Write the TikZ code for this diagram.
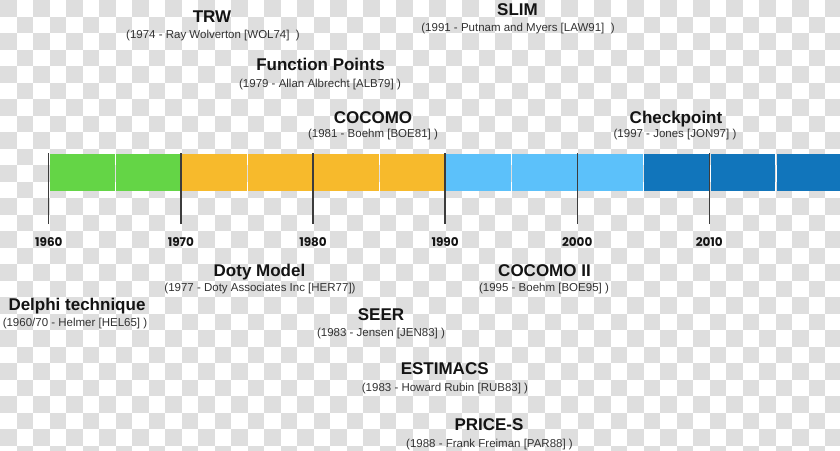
\documentclass[tikz,border=0pt]{standalone}
\usepackage{fontspec}
\setmainfont{Liberation Sans}
\newfontfamily\yearfont{Poppins}
\definecolor{chk}{RGB}{222,222,222}
\definecolor{titlec}{RGB}{20,20,20}
\definecolor{subc}{RGB}{50,50,50}
\definecolor{tickc}{RGB}{60,60,60}
\definecolor{cgreen}{RGB}{100,213,70}
\definecolor{corange}{RGB}{247,186,44}
\definecolor{clblue}{RGB}{92,193,250}
\definecolor{cdblue}{RGB}{17,117,187}
\begin{document}
\begin{tikzpicture}[x=1pt,y=-1pt,
  title/.style={font=\bfseries\fontsize{17}{17}\selectfont, text=titlec, inner sep=0pt, anchor=base},
  sub/.style={font=\fontsize{11.5}{11.5}\selectfont, text=subc, inner sep=0pt, anchor=base},
  year/.style={font=\yearfont\bfseries\fontsize{12}{12}\selectfont, text=titlec, inner sep=0pt, anchor=base},
  tickline/.style={draw=tickc, line width=1.3pt},
  seg/.style={draw=none}]
\useasboundingbox (0,0) rectangle (840,450);
\begin{scope}
\clip (0,0) rectangle (840,450);
\fill[white] (0,0) rectangle (840,450);
\foreach \i in {0,...,50} {
  \foreach \j in {0,...,27} {
    \pgfmathtruncatemacro\p{mod(\i+\j,2)}
    \ifnum\p=0 \fill[chk] ({\i*16.5},{\j*16.5}) rectangle ({(\i+1)*16.5},{(\j+1)*16.5});\fi
  }
}
% timeline segments
\foreach \k/\c in {0/cgreen,1/cgreen,2/corange,3/corange,4/corange,5/corange,6/clblue,7/clblue,8/clblue,9/cdblue,10/cdblue,11/cdblue} {
  \fill[\c] ({48.8+66.05*\k+1.2},154) rectangle ({48.8+66.05*(\k+1)-0.3},190.7);
}
\end{scope}
% ticks and years
\foreach \m/\yr in {0/1960,1/1970,2/1980,3/1990,4/2000,5/2010} {
  \coordinate (tt\yr) at ({48.8+132.1*\m},153);
  \coordinate (tb\yr) at ({48.8+132.1*\m},224);
  \draw[tickline] (tt\yr) -- (tb\yr);
  \node[year] (y\yr) at ({48.8+132.1*\m},246) {\yr};
}
% upper labels
\node[title] (trw) at (212,22.7) {TRW};
\node[sub] (trws) at (213,38.5) {(1974 - Ray Wolverton [WOL74]\ \ )};
\node[title] (fp) at (320.5,70) {Function Points};
\node[sub] (fps) at (320,87.5) {(1979 - Allan Albrecht [ALB79] )};
\node[title] (cocomo) at (373,123) {COCOMO};
\node[sub] (cocomos) at (373,137) {(1981 - Boehm [BOE81] )};
\node[title] (slim) at (517.5,15) {SLIM};
\node[sub] (slims) at (518,31.5) {(1991 - Putnam and Myers [LAW91]\ \ )};
\node[title] (chk) at (676,123) {Checkpoint};
\node[sub] (chks) at (675,137) {(1997 - Jones [JON97] )};
% lower labels
\node[title] (doty) at (259.5,276) {Doty Model};
\node[sub] (dotys) at (260,291.7) {(1977 - Doty Associates Inc [HER77])};
\node[title] (delphi) at (77,310.5) {Delphi technique};
\node[sub] (delphis) at (75,326) {(1960/70 - Helmer [HEL65] )};
\node[title] (seer) at (381,320.7) {SEER};
\node[sub] (seers) at (381,336) {(1983 - Jensen [JEN83] )};
\node[title] (cocomo2) at (544.5,276) {COCOMO II};
\node[sub] (cocomo2s) at (544,291.7) {(1995 - Boehm [BOE95] )};
\node[title] (estimacs) at (444.7,374) {ESTIMACS};
\node[sub] (estimacss) at (445,391) {(1983 - Howard Rubin [RUB83] )};
\node[title] (prices) at (489,430) {PRICE-S};
\node[sub] (pricess) at (489.5,447) {(1988 - Frank Freiman [PAR88] )};
\end{tikzpicture}
\end{document}
